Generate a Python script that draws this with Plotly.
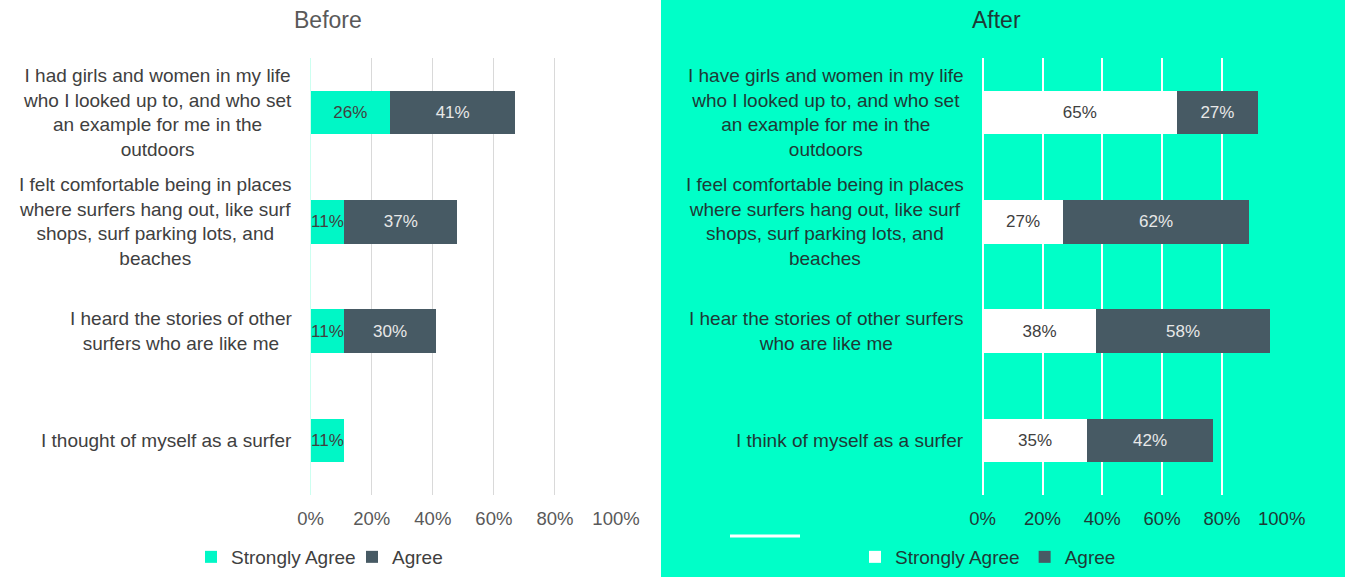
import plotly.graph_objects as go

# ---------------- data ----------------
categories_before = [
    "I had girls and women in my life<br>who I looked up to, and who set<br>an example for me in the<br>outdoors",
    "I felt comfortable being in places<br>where surfers hang out, like surf<br>shops, surf parking lots, and<br>beaches",
    "I heard the stories of other<br>surfers who are like me",
    "I thought of myself as a surfer",
]
categories_after = [
    "I have girls and women in my life<br>who I looked up to, and who set<br>an example for me in the<br>outdoors",
    "I feel comfortable being in places<br>where surfers hang out, like surf<br>shops, surf parking lots, and<br>beaches",
    "I hear the stories of other surfers<br>who are like me",
    "I think of myself as a surfer",
]
before_strongly_agree = [26, 11, 11, 11]
before_agree = [41, 37, 30, None]
after_strongly_agree = [65, 27, 38, 35]
after_agree = [27, 62, 58, 42]
x_ticks = [0, 20, 40, 60, 80, 100]
x_tick_labels = ["0%", "20%", "40%", "60%", "80%", "100%"]
panel_titles = ["Before", "After"]
series_names = ["Strongly Agree", "Agree"]

# ---------------- styles ----------------
W, H = 1345, 577
TEAL_BG = "#00FFC8"
TEAL_BAR = "#00F7C6"
DARK = "#475A64"
FONT = "Liberation Sans, Arial, sans-serif"
LEFT_TXT = "#404040"
RIGHT_TXT = "#1E3A36"

ids = ["c1", "c2", "c3", "c4"]


def labels(vals):
    return ["" if v is None else f"{v}%" for v in vals]


fig = go.Figure()

common_bar = dict(orientation="h", textposition="inside", insidetextanchor="middle",
                  textangle=0, constraintext="none", cliponaxis=False,
                  marker_line_width=0, hoverinfo="skip")

fig.add_trace(go.Bar(y=ids, x=before_strongly_agree, text=labels(before_strongly_agree),
                     name=series_names[0], marker_color=TEAL_BAR,
                     textfont=dict(color="#404040", size=17, family=FONT),
                     xaxis="x", yaxis="y", legend="legend", **common_bar))
fig.add_trace(go.Bar(y=ids, x=before_agree, text=labels(before_agree),
                     name=series_names[1], marker_color=DARK,
                     textfont=dict(color="#E8E8E8", size=17, family=FONT),
                     xaxis="x", yaxis="y", legend="legend", **common_bar))
fig.add_trace(go.Bar(y=ids, x=after_strongly_agree, text=labels(after_strongly_agree),
                     name=series_names[0], marker_color="#FFFFFF",
                     textfont=dict(color="#404040", size=17, family=FONT),
                     xaxis="x2", yaxis="y2", legend="legend2", **common_bar))
fig.add_trace(go.Bar(y=ids, x=after_agree, text=labels(after_agree),
                     name=series_names[1], marker_color=DARK,
                     textfont=dict(color="#E8E8E8", size=17, family=FONT),
                     xaxis="x2", yaxis="y2", legend="legend2", **common_bar))

ydom = [1 - 495 / H, 1 - 58 / H]
xaxis_common = dict(range=[0, 100], tickmode="array", tickvals=x_ticks, ticktext=x_tick_labels,
                    showline=False, ticks="", fixedrange=True, ticklabelstandoff=10,
                    automargin=False)
yaxis_common = dict(categoryorder="array", categoryarray=ids, autorange="reversed",
                    showticklabels=False, showgrid=False, showline=False, ticks="",
                    zeroline=False, automargin=False)

fig.update_layout(
    width=W, height=H, autosize=False,
    margin=dict(l=0, r=0, t=0, b=0, pad=0, autoexpand=False),
    paper_bgcolor="#FFFFFF",
    plot_bgcolor="rgba(0,0,0,0)",
    barmode="stack",
    bargap=0.6,
    uniformtext=dict(minsize=17, mode="show"),
    font=dict(family=FONT),
    xaxis=dict(domain=[310.7 / W, 616 / W], anchor="y", gridcolor="#D9D9D9", gridwidth=1,
               zeroline=True, zerolinecolor="#CCFFF0", zerolinewidth=1,
               tickfont=dict(size=18.5, color="#595959", family=FONT), **xaxis_common),
    yaxis=dict(domain=ydom, anchor="x", **yaxis_common),
    xaxis2=dict(domain=[982.7 / W, 1281.7 / W], anchor="y2", gridcolor="#FFFFFF", gridwidth=1.5,
                zeroline=True, zerolinecolor="#FFFFFF", zerolinewidth=1.5,
                tickfont=dict(size=18.5, color=RIGHT_TXT, family=FONT), **xaxis_common),
    yaxis2=dict(domain=ydom, anchor="x2", **yaxis_common),
    legend=dict(orientation="h", x=191 / W, xanchor="left", y=1 - 557 / H, yanchor="middle",
                font=dict(size=19, color="#404040", family=FONT), bgcolor="rgba(0,0,0,0)",
                itemwidth=30, traceorder="normal", entrywidth=116, entrywidthmode="pixels"),
    legend2=dict(orientation="h", x=855 / W, xanchor="left", y=1 - 557 / H, yanchor="middle",
                 font=dict(size=19, color=RIGHT_TXT, family=FONT), bgcolor="rgba(0,0,0,0)",
                 itemwidth=30, traceorder="normal"),
    showlegend=True,
)

# teal background for the "After" panel and decorative line
fig.add_shape(type="rect", xref="paper", yref="paper", x0=661 / W, x1=1, y0=0, y1=1,
              fillcolor=TEAL_BG, line_width=0, layer="below")
fig.add_shape(type="line", xref="paper", yref="paper", x0=730 / W, x1=800 / W,
              y0=1 - 536 / H, y1=1 - 536 / H, line=dict(color="#FFFFFF", width=3))

# panel titles
fig.add_annotation(text=panel_titles[0], xref="paper", yref="paper", x=328 / W, y=1 - 20 / H,
                   showarrow=False, xanchor="center", yanchor="middle",
                   font=dict(size=23, color="#595959", family=FONT))
fig.add_annotation(text=panel_titles[1], xref="paper", yref="paper", x=996 / W, y=1 - 20 / H,
                   showarrow=False, xanchor="center", yanchor="middle",
                   font=dict(size=23, color=RIGHT_TXT, family=FONT))

# category labels
for cid, lab in zip(ids, categories_before):
    fig.add_annotation(text=lab, xref="x domain", yref="y", x=0, y=cid, xshift=-17,
                       showarrow=False, xanchor="right", yanchor="middle", align="center",
                       font=dict(size=19, color=LEFT_TXT, family=FONT))
for cid, lab in zip(ids, categories_after):
    fig.add_annotation(text=lab, xref="x2 domain", yref="y2", x=0, y=cid, xshift=-17,
                       showarrow=False, xanchor="right", yanchor="middle", align="center",
                       font=dict(size=19, color=RIGHT_TXT, family=FONT))

fig.write_html(
    "out.html",
    config={"displayModeBar": False, "responsive": False},
    default_width="1345px", default_height="577px",
    post_script=("document.documentElement.style.margin='0';"
                 "document.documentElement.style.overflow='hidden';"
                 "document.body.style.margin='0';document.body.style.padding='0';"
                 "document.body.style.overflow='hidden';"),
)
